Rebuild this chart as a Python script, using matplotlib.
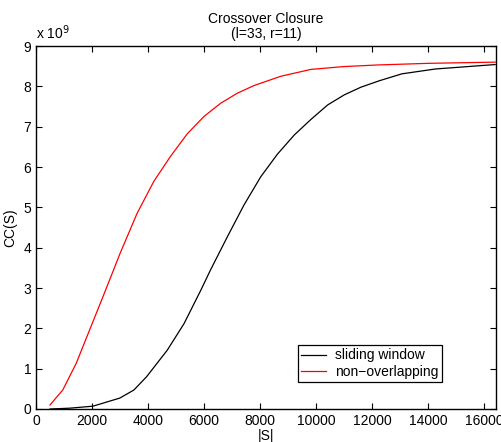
import matplotlib
matplotlib.use("Agg")
import matplotlib.pyplot as plt

plt.rcParams['font.family'] = ['Liberation Sans', 'DejaVu Sans']

# |S| values and CC(S) in units of 1e9
s_sliding = [500, 1195, 2035, 2990, 3495, 3950, 4690, 5290, 5890, 6235, 6835,
             7430, 8030, 8625, 9220, 9820, 10420, 11015, 11610, 12270, 13070,
             14265, 16400]
cc_sliding = [0.0, 0.02, 0.07, 0.27, 0.47, 0.80, 1.46, 2.12, 2.95, 3.45, 4.27,
              5.06, 5.76, 6.32, 6.79, 7.18, 7.54, 7.79, 7.98, 8.14, 8.31,
              8.43, 8.54]

s_nonover = [500, 955, 1435, 1915, 2395, 3010, 3610, 4205, 4800, 5400, 5995,
             6595, 7190, 7790, 8745, 9820, 11000, 12210, 14000, 16400]
cc_nonover = [0.10, 0.47, 1.13, 1.96, 2.79, 3.87, 4.85, 5.64, 6.26, 6.82, 7.25,
              7.58, 7.83, 8.02, 8.25, 8.42, 8.49, 8.53, 8.57, 8.60]

x_ticks = list(range(0, 16001, 2000))
y_ticks = list(range(0, 10))

fig = plt.figure(figsize=(5.01, 4.42), dpi=100)
ax = fig.add_axes([36/501, 33/442, 460/501, 363/442])

ax.plot(s_sliding, cc_sliding, color="black", lw=0.9, label="sliding window")
ax.plot(s_nonover, cc_nonover, color="red", lw=0.9, label="non\u2212overlapping")

ax.set_xlim(0, 16430)
ax.set_ylim(0, 9)
ax.set_xticks(x_ticks)
ax.set_yticks(y_ticks)
ax.tick_params(direction="in", length=4, top=True, right=True, labelsize=10, width=0.8)
for sp in ax.spines.values():
    sp.set_linewidth(1.0)

ax.set_title("Crossover Closure\n(l=33, r=11)", fontsize=10, linespacing=1.1, pad=6)
ax.set_xlabel("|S|", fontsize=10, labelpad=1)
ax.set_ylabel("CC(S)", fontsize=10, labelpad=4)
ax.text(0.0, 1.012, "x 10$^{9}$", transform=ax.transAxes, fontsize=10,
        ha="left", va="bottom")

leg = ax.legend(loc="lower left", bbox_to_anchor=(0.5696, 0.0744), borderaxespad=0,
                fontsize=10, fancybox=False, framealpha=1, edgecolor="black",
                handlelength=1.8, handletextpad=0.6, borderpad=0.25, labelspacing=0.15)
leg.get_frame().set_linewidth(0.9)

fig.savefig("out.png", dpi=100)
